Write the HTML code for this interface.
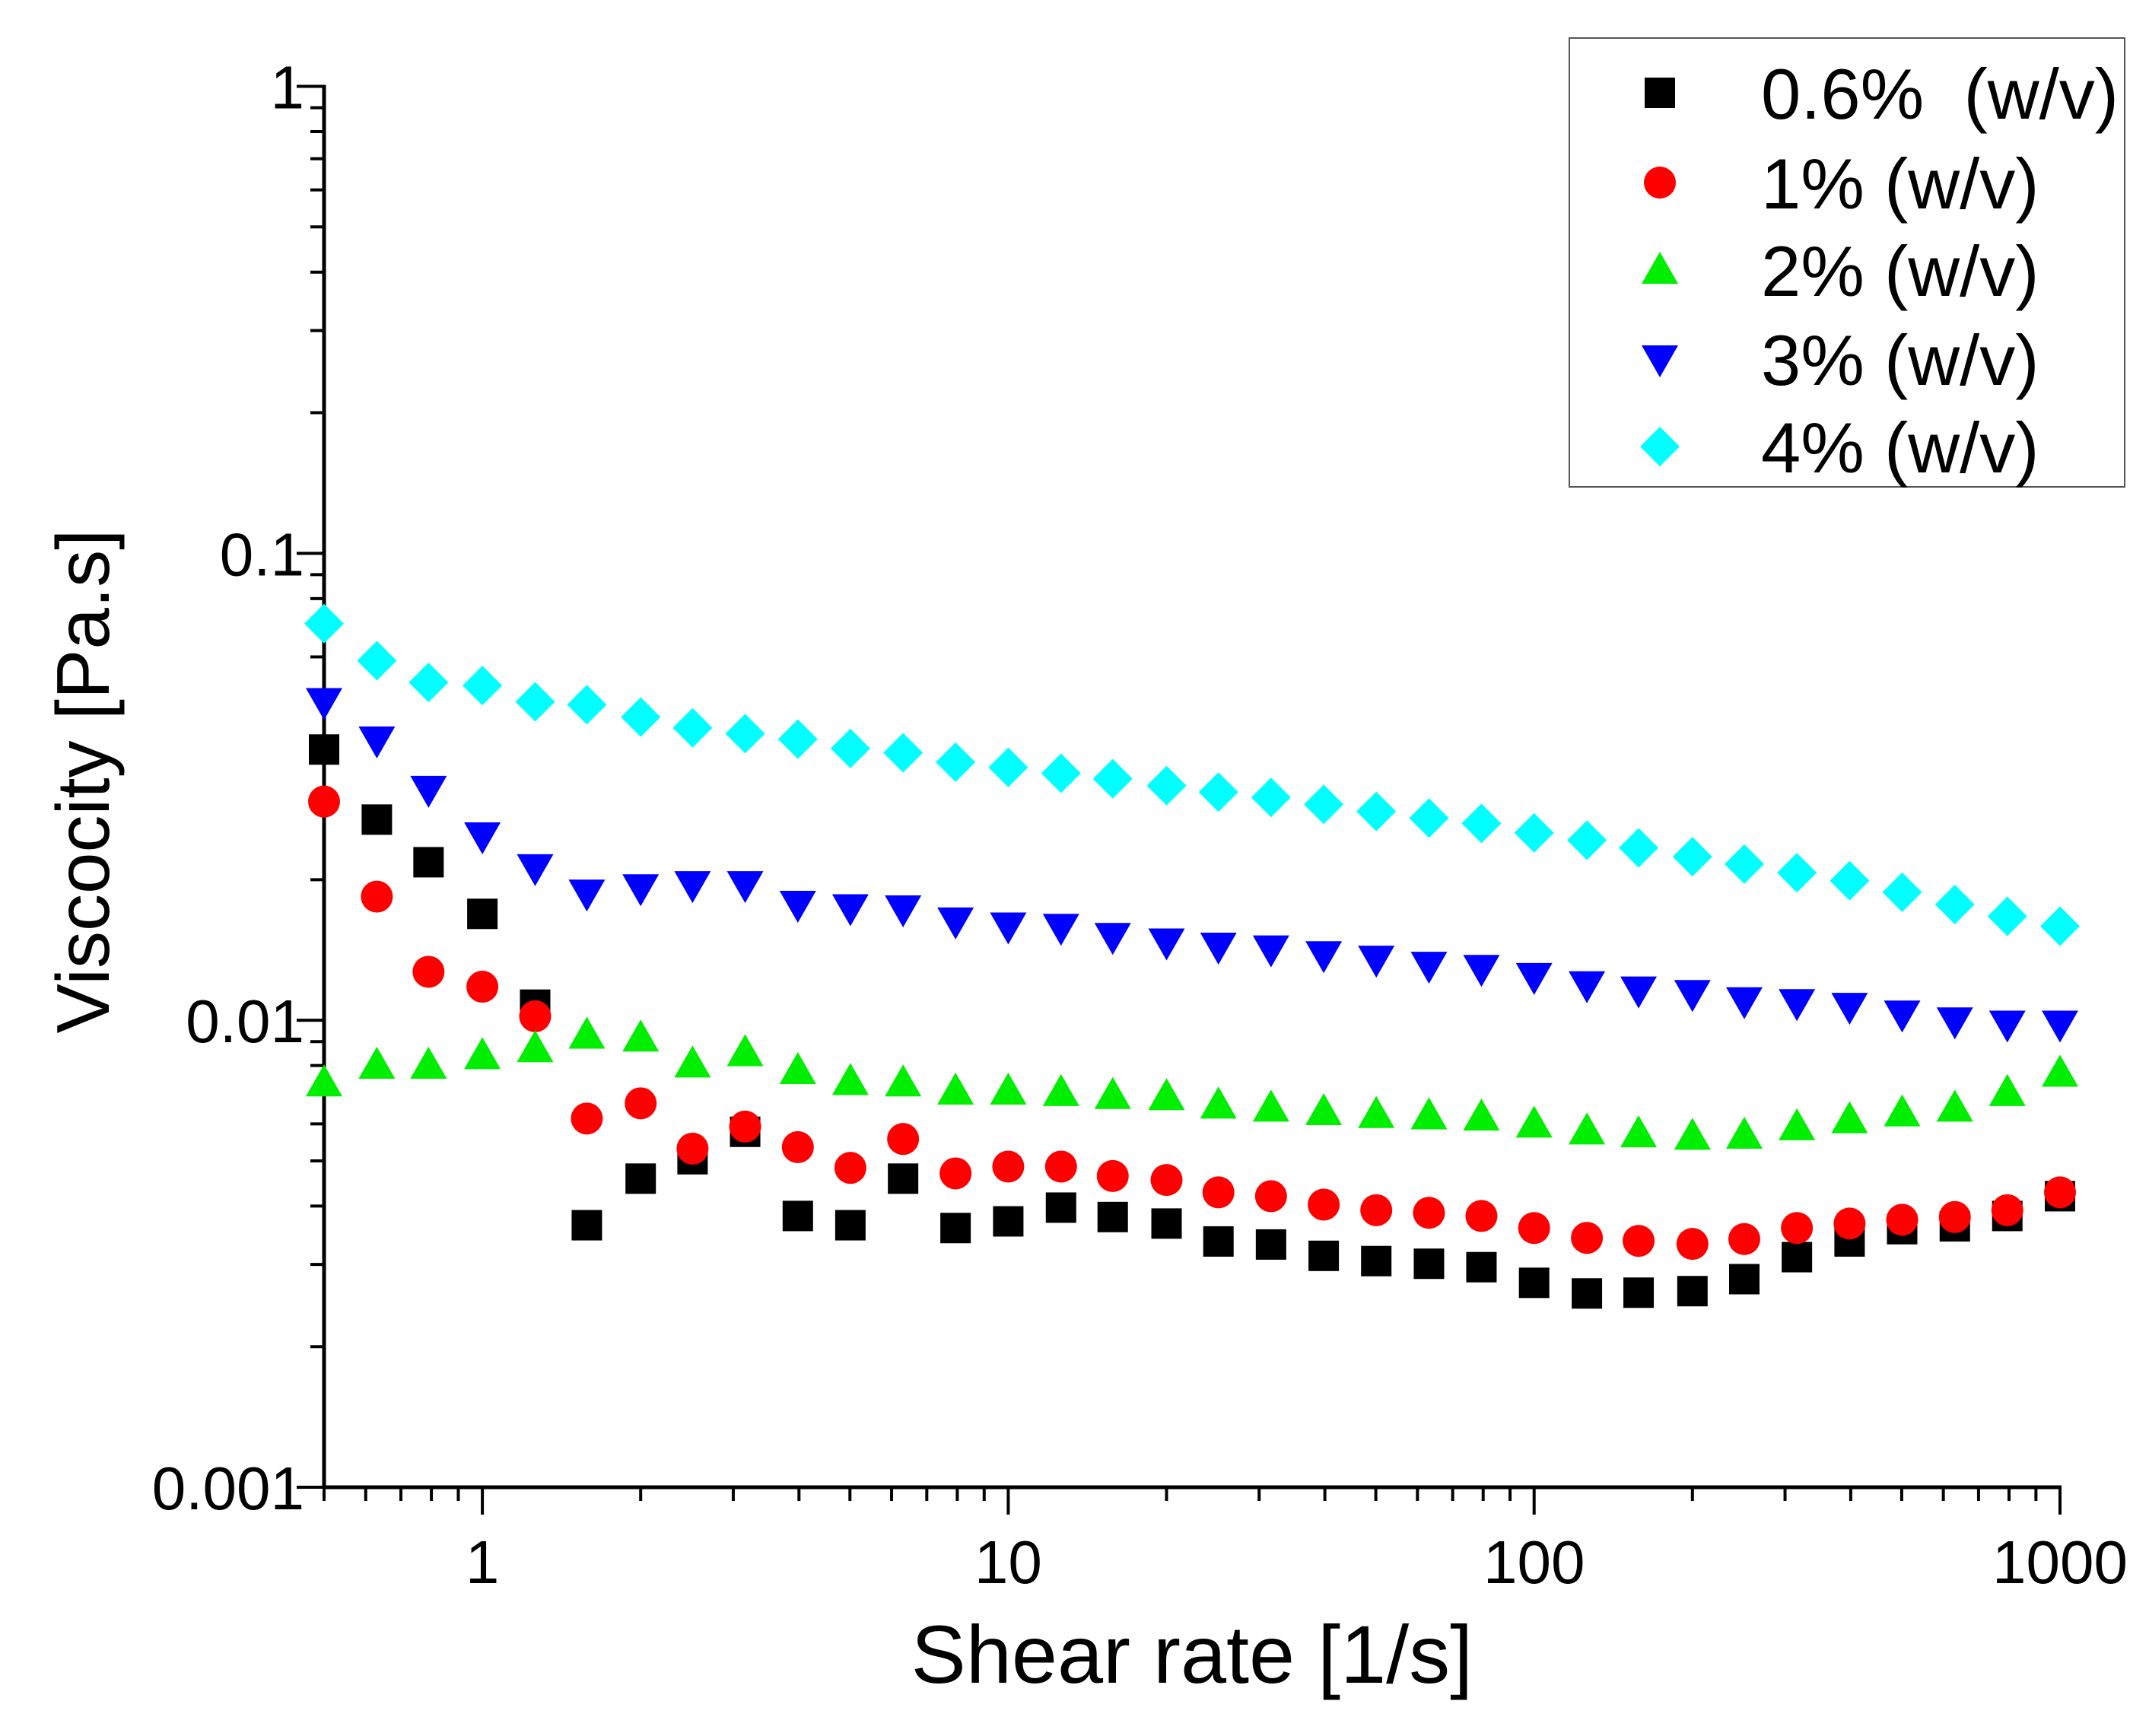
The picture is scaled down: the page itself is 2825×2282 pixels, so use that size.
<!DOCTYPE html>
<html><head><meta charset="utf-8">
<style>
html,body{margin:0;padding:0;background:#fff;}
svg{display:block;font-family:"Liberation Sans",Arial,sans-serif;}
</style></head>
<body>
<svg id="chart" width="2825" height="2282" viewBox="0 0 2825 2282" xmlns="http://www.w3.org/2000/svg">
<rect width="2825" height="2282" fill="#fff"/>
<g id="axes"></g>
<g id="marks"></g>
<text x="1567" y="2212" font-size="108" text-anchor="middle">Shear rate [1/s]</text>
<text x="0" y="0" font-size="98" text-anchor="middle" transform="translate(143,1027) rotate(-90)">Viscocity [Pa.s]</text>
<g>
<rect x="2063" y="50" width="730" height="590" fill="#fff" stroke="#555" stroke-width="2"/>
<g id="legend-items"></g>
</g>
</svg>
<script>
const seriesNames = ["0.6%  (w/v)","1% (w/v)","2% (w/v)","3% (w/v)","4% (w/v)"];
const xTickLabels = ["1","10","100","1000"];
const xTickValues = [1,10,100,1000];
const yTickLabels = ["0.001","0.01","0.1","1"];
const yTickValues = [0.001,0.01,0.1,1];
const shearRates = [0.5,0.63,0.79,1,1.26,1.58,2,2.51,3.16,3.98,5.01,6.31,7.94,10,12.6,15.8,20,25.1,31.6,39.8,50.1,63.1,79.4,100,126,158,200,251,316,398,501,631,794,1000];
const s06 = [0.038,0.0269,0.0218,0.0169,0.0108,0.00364,0.00458,0.00504,0.00577,0.00381,0.00364,0.00458,0.00359,0.00371,0.00397,0.00379,0.00367,0.00336,0.00331,0.00313,0.00305,0.00301,0.00296,0.00274,0.0026,0.00261,0.00263,0.00279,0.00311,0.00336,0.00357,0.00362,0.00381,0.0042];
const s1 = [0.0294,0.0184,0.0127,0.0118,0.0102,0.00616,0.00664,0.00531,0.00592,0.00535,0.00483,0.00557,0.0047,0.00486,0.00486,0.00464,0.00455,0.00428,0.0042,0.00403,0.00392,0.00387,0.00381,0.00359,0.00342,0.00337,0.00332,0.0034,0.00359,0.00367,0.00374,0.00379,0.00392,0.00428];
const s2 = [0.00735,0.00802,0.00802,0.00841,0.0087,0.0093,0.00917,0.00807,0.00853,0.00781,0.0074,0.00735,0.00706,0.00706,0.00701,0.00691,0.00687,0.00659,0.00649,0.00638,0.00629,0.00625,0.00621,0.006,0.0058,0.00572,0.00565,0.00568,0.00592,0.00613,0.00634,0.00649,0.00701,0.00771];
const s3 = [0.0481,0.0398,0.0312,0.0248,0.0212,0.0187,0.0192,0.0195,0.0195,0.0177,0.0174,0.0173,0.0163,0.0159,0.0158,0.0151,0.0147,0.0144,0.0142,0.0138,0.0135,0.0131,0.0129,0.0124,0.0119,0.0116,0.0114,0.011,0.0109,0.0107,0.0103,0.00996,0.0098,0.0098];
const s4 = [0.0707,0.0589,0.0529,0.0521,0.0481,0.0474,0.0446,0.0423,0.0411,0.04,0.0382,0.0374,0.0357,0.0348,0.0338,0.0329,0.0318,0.0308,0.03,0.029,0.028,0.0271,0.0264,0.0252,0.0243,0.0234,0.0224,0.0216,0.0207,0.0199,0.0188,0.0177,0.0167,0.0159];
const allSeries = [s06,s1,s2,s3,s4];
const colors = ["#000000","#ff0000","#00ee00","#0000ff","#00ffff"];
const shapes = ["square","circle","up","down","diamond"];

const NS="http://www.w3.org/2000/svg";
const X0=426, X1=2708, Y0=1955, Y1=113.5;
const xMin=Math.log10(0.5), xMax=3, yMin=-3, yMax=0;
function xs(v){return X0+(Math.log10(v)-xMin)/(xMax-xMin)*(X1-X0);}
function ys(v){return Y0-(Math.log10(v)-yMin)/(yMax-yMin)*(Y0-Y1);}
function mk(tag,attrs,parent){const e=document.createElementNS(NS,tag);for(const k in attrs)e.setAttribute(k,attrs[k]);parent.appendChild(e);return e;}

const axes=document.getElementById('axes');
const xl=mk('line',{x1:X0-2,y1:Y0,x2:X1+2,y2:Y0,stroke:'#000','stroke-width':5},axes);


const yl=mk('line',{x1:X0,y1:Y0+2,x2:X0,y2:Y1-2,stroke:'#000','stroke-width':5},axes);


for(let d=-1;d<=2;d++){for(let m=1;m<=9;m++){const v=m*Math.pow(10,d);if(v<0.5||v>1000)continue;const x=xs(v);const len=m===1?36:18;
const t=mk('line',{x1:x,y1:Y0,x2:x,y2:Y0+len,stroke:'#000','stroke-width':4},axes);

}}
{const t=mk('line',{x1:xs(1000),y1:Y0,x2:xs(1000),y2:Y0+36,stroke:'#000','stroke-width':4},axes);

}
xTickValues.forEach((v,i)=>{const t=mk('text',{x:xs(v),y:2081,'font-size':80,'text-anchor':'middle'},axes);t.textContent=xTickLabels[i];

});
for(let d=-3;d<=-1;d++){for(let m=1;m<=9;m++){const v=m*Math.pow(10,d);const y=ys(v);const len=m===1?36:18;
const t=mk('line',{x1:X0-len,y1:y,x2:X0,y2:y,stroke:'#000','stroke-width':4},axes);

}}
{const t=mk('line',{x1:X0-36,y1:ys(1),x2:X0,y2:ys(1),stroke:'#000','stroke-width':4},axes);

}
yTickValues.forEach((v,i)=>{const t=mk('text',{x:400,y:ys(v)+29,'font-size':80,'text-anchor':'end'},axes);t.textContent=yTickLabels[i];

});

function marker(shape,cx,cy,color,parent){let e;
if(shape==='square')e=mk('rect',{x:cx-20,y:cy-20,width:40,height:40,fill:color},parent);
else if(shape==='circle')e=mk('circle',{cx:cx,cy:cy,r:21,fill:color},parent);
else if(shape==='up')e=mk('polygon',{points:`${cx},${cy-24} ${cx+24},${cy+18} ${cx-24},${cy+18}`,fill:color},parent);
else if(shape==='down')e=mk('polygon',{points:`${cx},${cy+24} ${cx+24},${cy-18} ${cx-24},${cy-18}`,fill:color},parent);
else e=mk('polygon',{points:`${cx},${cy-26} ${cx+26},${cy} ${cx},${cy+26} ${cx-26},${cy}`,fill:color},parent);
return e;}

const marks=document.getElementById('marks');
allSeries.forEach((s,si)=>{const g=mk('g',{},marks);


s.forEach((v,i)=>{const p=marker(shapes[si],xs(shearRates[i]),ys(v),colors[si],g);

});});

const leg=document.getElementById('legend-items');
const legY=[122,240,355,472,587];
seriesNames.forEach((n,i)=>{const g=mk('g',{},leg);


marker(shapes[i],2182,legY[i],colors[i],g);
const t=mk('text',{x:2315,y:legY[i]+34,'font-size':94},g);t.textContent=n;t.style.whiteSpace='pre';});
</script>
</body></html>
